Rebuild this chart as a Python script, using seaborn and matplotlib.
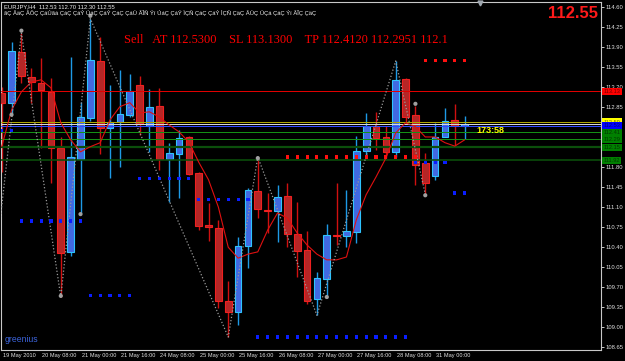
import matplotlib
matplotlib.use("Agg")
import matplotlib.pyplot as plt
import matplotlib.transforms as mtransforms
import numpy as np
import pandas as pd
import seaborn as sns

# ---------------- data ----------------
header_text = "EURJPY,H4  112.53 112.70 112.30 112.55"
comment_text = "ãÇ ÃäÇ ÃÕÇ ÇáÚãá ÇáÇ ÇáÝ ÚáÇ ÇáÝ ÇáÇ ÇáÚ ÃÎÑ Ýí ÚáÇ ÇáÝ ÏÇÑ ÇáÇ ÇáÝ ÌÇÑ ÇäÇ ÃÚÇ ÚÇá ÇáÇ Ýí ÃÎÇ ÇäÇ"
trade_text = "Sell   AT 112.5300    SL 113.1300    TP 112.4120 112.2951 112.1"
big_price_text = "112.55"
countdown_text = "173:58"
brand_text = "greenius"

opens = [113.10, 112.93, 113.82, 113.38, 113.28, 113.12, 112.14, 110.32, 111.95, 112.66,
         113.66, 112.49, 112.59, 112.72, 113.24, 112.52, 112.87, 111.95, 112.03, 112.33,
         111.70, 110.79, 110.74, 109.46, 109.27, 110.42, 111.39, 111.06, 111.04, 111.30,
         110.63, 110.35, 109.49, 109.85, 110.61, 110.60, 110.67, 112.09, 112.52, 112.33,
         112.07, 113.35, 112.72, 111.88, 111.65, 112.33, 112.63, 112.53]
highs = [113.21, 113.99, 114.15, 113.54, 113.71, 113.36, 112.33, 113.73, 112.94, 114.40,
         114.08, 113.24, 113.50, 113.43, 113.40, 113.17, 113.19, 112.23, 112.45, 112.35,
         111.72, 111.18, 110.88, 109.81, 110.58, 111.44, 111.98, 111.35, 111.49, 111.53,
         111.19, 110.69, 109.97, 110.81, 111.53, 111.40, 112.35, 112.75, 112.77, 112.52,
         113.66, 113.36, 112.87, 112.05, 112.58, 112.84, 112.91, 112.70]
lows = [111.72, 112.75, 113.28, 112.93, 112.14, 111.53, 109.53, 110.25, 111.00, 112.61,
        112.03, 111.61, 111.81, 112.68, 112.37, 112.07, 111.75, 111.19, 111.26, 111.67,
        110.70, 110.51, 109.34, 108.83, 109.04, 110.04, 110.91, 110.65, 110.49, 110.41,
        109.88, 109.41, 109.21, 109.51, 110.44, 110.41, 110.48, 112.02, 112.10, 111.96,
        111.98, 112.58, 111.49, 111.33, 111.58, 112.33, 112.17, 112.30]
closes = [112.93, 113.84, 113.40, 113.29, 113.15, 112.14, 110.30, 111.98, 112.68, 113.68,
          112.49, 112.59, 112.73, 113.14, 112.56, 112.86, 111.95, 112.05, 112.31, 111.68,
          110.77, 110.76, 109.46, 109.27, 110.42, 111.40, 111.07, 111.04, 111.28, 110.63,
          110.34, 109.46, 109.86, 110.62, 110.59, 110.68, 112.09, 112.52, 112.31, 112.07,
          113.33, 112.68, 111.84, 111.53, 112.33, 112.61, 112.52, 112.55]

ma_values = [112.16, 112.80, 113.12, 113.29, 113.33, 113.19, 112.58, 112.28, 112.07, 112.16,
             112.23, 112.63, 112.86, 112.93, 112.75, 112.77, 112.68, 112.54, 112.42, 112.24,
             111.89, 111.58, 111.10, 110.40, 110.21, 110.28, 110.32, 110.70, 111.00, 110.91,
             110.65, 110.44, 110.28, 110.18, 110.18, 110.23, 110.88, 111.32, 111.63, 111.96,
             112.40, 112.58, 112.51, 112.33, 112.33, 112.23, 112.17, 112.28]

zigzag_bars = [-1, 2, 6, 9, 23, 26, 32, 40, 43]
zigzag_prices = [109.60, 114.15, 109.53, 114.40, 108.83, 111.98, 109.21, 113.66, 111.33]

fractal_bars = [1, 2, 6, 8, 9, 26, 33, 42, 43]
fractal_prices = [112.72, 114.19, 109.55, 110.98, 114.45, 111.96, 109.53, 112.91, 111.31]

blue_dot_bars = ([0, 1] + [2, 3, 4, 5, 6, 7, 8] + [9, 10, 11, 12, 13]
                 + [14, 15, 16, 17, 18, 19] + [20, 21, 22, 23, 24, 25]
                 + list(range(26, 42)) + [42, 43, 44, 45] + [46, 47])
blue_dot_prices = ([112.45] * 2 + [110.86] * 7 + [109.55] * 5 + [111.61] * 6
                   + [111.23] * 6 + [108.83] * 16 + [111.89] * 4 + [111.35] * 2)
red_dot_bars = list(range(29, 43)) + [43, 44, 45, 46, 47]
red_dot_prices = [111.98] * 14 + [113.66] * 5

hline_prices = [113.13, 112.59, 112.55, 112.53, 112.41, 112.29, 112.15, 111.92]
box_prices = [113.13, 112.59, 112.53, 112.41, 112.29, 112.15, 111.92]
box_labels = ["113.13", "112.59", "112.53", "112.41", "112.29", "112.15", "111.92"]

ytick_values = [108.65, 109.00, 109.35, 109.70, 110.05, 110.40, 110.75, 111.10, 111.45,
                111.80, 112.15, 112.50, 112.85, 113.20, 113.55, 113.90, 114.25, 114.60]
hidden_ytick_labels = [112.15, 112.50]   # covered by the line-label boxes in the chart
xtick_bars = [0, 4, 8, 12, 16, 20, 24, 28, 32, 36, 40, 44]
xtick_labels = ["19 May 2010", "20 May 08:00", "21 May 00:00", "21 May 16:00",
                "24 May 08:00", "25 May 00:00", "25 May 16:00", "26 May 08:00",
                "27 May 00:00", "27 May 16:00", "28 May 08:00", "31 May 00:00"]

# ---------------- style ----------------
sns.set_theme(style="dark")
small_font = ["Liberation Sans", "DejaVu Sans"]
plt.rcParams["font.family"] = ["DejaVu Sans"]

W, H = 625, 361
fig = plt.figure(figsize=(W / 100, H / 100), dpi=100, facecolor="black")
L, R, T, B = 1.5, 600.7, 1.5, 350.0
ax = fig.add_axes([L / W, 1 - B / H, (R - L) / W, (B - T) / H])
ax.set_facecolor("black")
ax.grid(False)


def fpos(x, y):
    return x / W, 1 - y / H


df = pd.DataFrame({"bar": np.arange(len(opens)), "open": opens, "high": highs,
                   "low": lows, "close": closes, "ma": ma_values})
bull = df["close"] >= df["open"]
bottom = df[["open", "close"]].min(axis=1)
height = (df["close"] - df["open"]).abs().clip(lower=0.012)

ax.vlines(df["bar"][bull], df["low"][bull], df["high"][bull], color="#1E9AE6", lw=1.0, zorder=2)
ax.vlines(df["bar"][~bull], df["low"][~bull], df["high"][~bull], color="#D01010", lw=1.0, zorder=2)
ax.bar(df["bar"][bull], height[bull], bottom=bottom[bull], width=0.68,
       color="#4169E1", edgecolor="#2EC4FF", linewidth=0.8, zorder=3)
ax.bar(df["bar"][~bull], height[~bull], bottom=bottom[~bull], width=0.68,
       color="#B52626", edgecolor="#F02020", linewidth=0.8, zorder=3)

# horizontal lines
hl_colors = ["#E00000", "#B0A800", "#D8D8D8", "#3048FF", "#159015", "#159015", "#0B4F0B", "#0B4F0B"]
hl_widths = [1.0, 1.0, 1.0, 1.0, 1.0, 1.0, 2.2, 1.6]
for p, c, w in zip(hline_prices, hl_colors, hl_widths):
    ax.axhline(p, color=c, lw=w * 0.72, zorder=4)

# moving average & zigzag
sns.lineplot(data=df, x="bar", y="ma", ax=ax, color="#E01010", lw=0.8, zorder=5, legend=False)
zz = pd.DataFrame({"bar": zigzag_bars, "price": zigzag_prices})
sns.lineplot(data=zz, x="bar", y="price", ax=ax, color="#9A9A9A", lw=0.9, zorder=5,
             sort=False, legend=False, linestyle=(0, (1.0, 1.6)))

# dots
bd = pd.DataFrame({"bar": blue_dot_bars, "price": blue_dot_prices})
rd = pd.DataFrame({"bar": red_dot_bars, "price": red_dot_prices})
fr = pd.DataFrame({"bar": fractal_bars, "price": fractal_prices})
sns.scatterplot(data=bd, x="bar", y="price", ax=ax, color="#0A1EFF", marker="s", s=5,
                edgecolor="none", zorder=6, legend=False)
sns.scatterplot(data=rd, x="bar", y="price", ax=ax, color="#FF1010", marker="s", s=5,
                edgecolor="none", zorder=6, legend=False)
sns.scatterplot(data=fr, x="bar", y="price", ax=ax, color="#A0A0A0", marker="o", s=9,
                edgecolor="none", zorder=6, legend=False)

ax.set_xlim(-0.02, 60.81)
ax.set_ylim(108.603, 114.70)
ax.set_xlabel("")
ax.set_ylabel("")

# spines
for s in ax.spines.values():
    s.set_color("#C8C8C8")
    s.set_linewidth(0.8)
    s.set_visible(True)

# y axis on the right
ax.yaxis.tick_right()
ax.set_yticks(ytick_values)
ax.set_yticklabels(["" if v in hidden_ytick_labels else f"{v:.2f}" for v in ytick_values])
ax.tick_params(axis="y", which="both", direction="out", length=2.2, width=0.7,
               color="#C8C8C8", pad=1.0, labelsize=4.2, labelcolor="#E0E0E0",
               left=False, right=True)
for t in ax.get_yticklabels():
    t.set_family(small_font)

# x axis
ax.set_xticks(xtick_bars)
ax.set_xticklabels(xtick_labels)
ax.tick_params(axis="x", which="both", direction="out", length=3.0, width=0.7,
               color="#C8C8C8", pad=-0.5, labelsize=4.1, labelcolor="#E0E0E0")
shift = mtransforms.ScaledTranslation(1.0 / 100, 0, fig.dpi_scale_trans)
for t in ax.get_xticklabels():
    t.set_family(small_font)
    t.set_horizontalalignment("left")
    t.set_transform(t.get_transform() + shift)

# right-side price boxes
box_face = ["#FF0000", "#FFFF00", "#0000FF", "#008000", "#008000", "#008000", "#008000"]
box_text = ["#700000", "#707000", "#000070", "#003800", "#003800", "#003800", "#003800"]
trans = mtransforms.blended_transform_factory(fig.transFigure, ax.transData)
for p, lab, fc, tc in zip(box_prices, box_labels, box_face, box_text):
    ax.text(603.5 / W, p, lab, transform=trans, ha="left", va="center", fontsize=4.1,
            family=small_font, color=tc, zorder=10, clip_on=False,
            bbox=dict(boxstyle="square,pad=0.2", facecolor=fc, edgecolor="none"))

# texts
fig.text(*fpos(4, 8.6), header_text, color="#F0F0F0", fontsize=4.2, family=small_font,
         ha="left", va="baseline")
fig.text(*fpos(4, 14.8), comment_text, color="#F0F0F0", fontsize=4.2, family=small_font,
         ha="left", va="baseline")
fig.text(*fpos(124.5, 43.3), trade_text, color="#FF0000", fontsize=8.9,
         family=["Liberation Serif", "DejaVu Serif"], ha="left", va="baseline")
fig.text(*fpos(598, 18.5), big_price_text, color="#FF1A1A", fontsize=12, fontweight="bold",
         family=["Liberation Sans", "DejaVu Sans"], ha="right", va="baseline")
fig.text(*fpos(476, 133.0), countdown_text, color="#FFFF00", fontsize=6.5, fontweight="bold",
         family=["Liberation Sans", "DejaVu Sans"], ha="left", va="baseline")
fig.text(*fpos(5, 341.5), brand_text, color="#3C64DC", fontsize=6.2,
         family=["Liberation Sans", "DejaVu Sans"], ha="left", va="baseline")

# chart-shift marker
fig.lines.append(matplotlib.lines.Line2D([480 / W], [1 - 3.0 / H], marker="v", markersize=3.5,
                                         color="#A0A8B0", transform=fig.transFigure))

fig.savefig("out.png", dpi=100, facecolor="black")
